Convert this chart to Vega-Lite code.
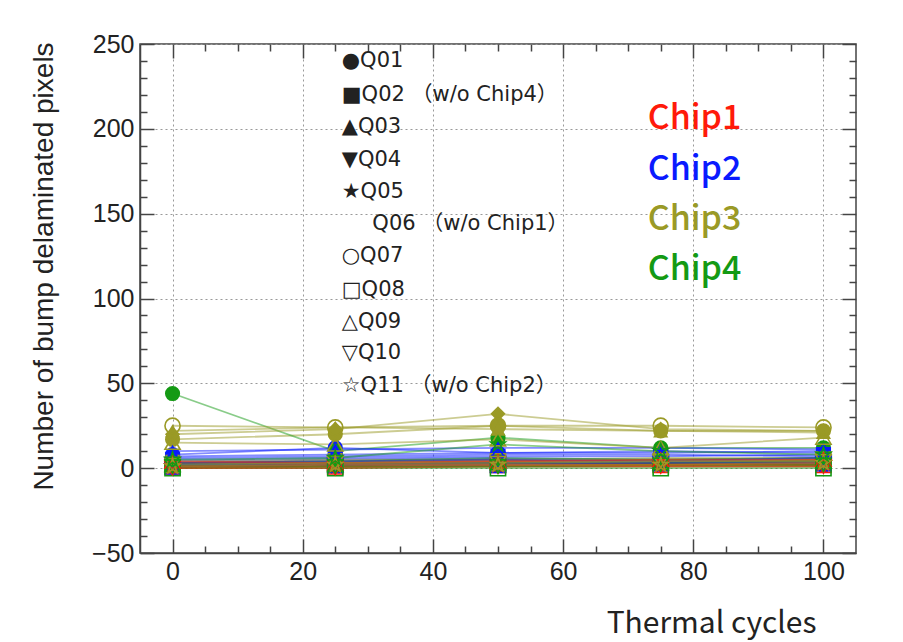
{
"$schema": "https://vega.github.io/schema/vega-lite/v6.json",
"width": 716, "height": 509,
"autosize": "none",
"padding": {"left": 140, "top": 44, "right": 47, "bottom": 89},
"background": "white",
"config": {"view": {"stroke": "#444", "strokeWidth": 1.5}},
"datasets": {
"pts": [
{"q":"Q01","c":"Chip1","x":0,"y":2},{"q":"Q01","c":"Chip1","x":25,"y":3},{"q":"Q01","c":"Chip1","x":50,"y":2},{"q":"Q01","c":"Chip1","x":75,"y":3},{"q":"Q01","c":"Chip1","x":100,"y":2},
{"q":"Q01","c":"Chip2","x":0,"y":8},{"q":"Q01","c":"Chip2","x":25,"y":12},{"q":"Q01","c":"Chip2","x":50,"y":9},{"q":"Q01","c":"Chip2","x":75,"y":10},{"q":"Q01","c":"Chip2","x":100,"y":9},
{"q":"Q01","c":"Chip3","x":0,"y":17},{"q":"Q01","c":"Chip3","x":25,"y":20},{"q":"Q01","c":"Chip3","x":50,"y":25},{"q":"Q01","c":"Chip3","x":75,"y":22},{"q":"Q01","c":"Chip3","x":100,"y":22},
{"q":"Q01","c":"Chip4","x":0,"y":44},{"q":"Q01","c":"Chip4","x":25,"y":10},{"q":"Q01","c":"Chip4","x":50,"y":18},{"q":"Q01","c":"Chip4","x":75,"y":12},{"q":"Q01","c":"Chip4","x":100,"y":12},
{"q":"Q02","c":"Chip1","x":0,"y":3},{"q":"Q02","c":"Chip1","x":25,"y":3},{"q":"Q02","c":"Chip1","x":50,"y":4},{"q":"Q02","c":"Chip1","x":75,"y":4},{"q":"Q02","c":"Chip1","x":100,"y":4},
{"q":"Q02","c":"Chip2","x":0,"y":5},{"q":"Q02","c":"Chip2","x":25,"y":6},{"q":"Q02","c":"Chip2","x":50,"y":7},{"q":"Q02","c":"Chip2","x":75,"y":7},{"q":"Q02","c":"Chip2","x":100,"y":8},
{"q":"Q02","c":"Chip3","x":0,"y":1},{"q":"Q02","c":"Chip3","x":25,"y":2},{"q":"Q02","c":"Chip3","x":50,"y":3},{"q":"Q02","c":"Chip3","x":75,"y":3},{"q":"Q02","c":"Chip3","x":100,"y":3},
{"q":"Q03","c":"Chip1","x":0,"y":1},{"q":"Q03","c":"Chip1","x":25,"y":2},{"q":"Q03","c":"Chip1","x":50,"y":3},{"q":"Q03","c":"Chip1","x":75,"y":2},{"q":"Q03","c":"Chip1","x":100,"y":3},
{"q":"Q03","c":"Chip2","x":0,"y":10},{"q":"Q03","c":"Chip2","x":25,"y":11},{"q":"Q03","c":"Chip2","x":50,"y":12},{"q":"Q03","c":"Chip2","x":75,"y":12},{"q":"Q03","c":"Chip2","x":100,"y":11},
{"q":"Q03","c":"Chip3","x":0,"y":22},{"q":"Q03","c":"Chip3","x":25,"y":24},{"q":"Q03","c":"Chip3","x":50,"y":23},{"q":"Q03","c":"Chip3","x":75,"y":22},{"q":"Q03","c":"Chip3","x":100,"y":21},
{"q":"Q03","c":"Chip4","x":0,"y":2},{"q":"Q03","c":"Chip4","x":25,"y":3},{"q":"Q03","c":"Chip4","x":50,"y":5},{"q":"Q03","c":"Chip4","x":75,"y":4},{"q":"Q03","c":"Chip4","x":100,"y":5},
{"q":"Q04","c":"Chip1","x":0,"y":3},{"q":"Q04","c":"Chip1","x":25,"y":4},{"q":"Q04","c":"Chip1","x":50,"y":5},{"q":"Q04","c":"Chip1","x":75,"y":4},{"q":"Q04","c":"Chip1","x":100,"y":4},
{"q":"Q04","c":"Chip2","x":0,"y":4},{"q":"Q04","c":"Chip2","x":25,"y":5},{"q":"Q04","c":"Chip2","x":50,"y":6},{"q":"Q04","c":"Chip2","x":75,"y":5},{"q":"Q04","c":"Chip2","x":100,"y":6},
{"q":"Q04","c":"Chip3","x":0,"y":4},{"q":"Q04","c":"Chip3","x":25,"y":5},{"q":"Q04","c":"Chip3","x":50,"y":5},{"q":"Q04","c":"Chip3","x":75,"y":6},{"q":"Q04","c":"Chip3","x":100,"y":6},
{"q":"Q04","c":"Chip4","x":0,"y":1},{"q":"Q04","c":"Chip4","x":25,"y":1},{"q":"Q04","c":"Chip4","x":50,"y":2},{"q":"Q04","c":"Chip4","x":75,"y":2},{"q":"Q04","c":"Chip4","x":100,"y":2},
{"q":"Q05","c":"Chip1","x":0,"y":0},{"q":"Q05","c":"Chip1","x":25,"y":1},{"q":"Q05","c":"Chip1","x":50,"y":1},{"q":"Q05","c":"Chip1","x":75,"y":1},{"q":"Q05","c":"Chip1","x":100,"y":1},
{"q":"Q05","c":"Chip2","x":0,"y":2},{"q":"Q05","c":"Chip2","x":25,"y":3},{"q":"Q05","c":"Chip2","x":50,"y":4},{"q":"Q05","c":"Chip2","x":75,"y":4},{"q":"Q05","c":"Chip2","x":100,"y":4},
{"q":"Q05","c":"Chip3","x":0,"y":3},{"q":"Q05","c":"Chip3","x":25,"y":4},{"q":"Q05","c":"Chip3","x":50,"y":4},{"q":"Q05","c":"Chip3","x":75,"y":5},{"q":"Q05","c":"Chip3","x":100,"y":5},
{"q":"Q05","c":"Chip4","x":0,"y":0},{"q":"Q05","c":"Chip4","x":25,"y":0},{"q":"Q05","c":"Chip4","x":50,"y":1},{"q":"Q05","c":"Chip4","x":75,"y":1},{"q":"Q05","c":"Chip4","x":100,"y":1},
{"q":"Q06","c":"Chip2","x":0,"y":6},{"q":"Q06","c":"Chip2","x":25,"y":7},{"q":"Q06","c":"Chip2","x":50,"y":8},{"q":"Q06","c":"Chip2","x":75,"y":8},{"q":"Q06","c":"Chip2","x":100,"y":7},
{"q":"Q06","c":"Chip3","x":0,"y":20},{"q":"Q06","c":"Chip3","x":25,"y":23},{"q":"Q06","c":"Chip3","x":50,"y":32},{"q":"Q06","c":"Chip3","x":75,"y":23},{"q":"Q06","c":"Chip3","x":100,"y":22},
{"q":"Q06","c":"Chip4","x":0,"y":3},{"q":"Q06","c":"Chip4","x":25,"y":4},{"q":"Q06","c":"Chip4","x":50,"y":6},{"q":"Q06","c":"Chip4","x":75,"y":5},{"q":"Q06","c":"Chip4","x":100,"y":6},
{"q":"Q07","c":"Chip1","x":0,"y":2},{"q":"Q07","c":"Chip1","x":25,"y":2},{"q":"Q07","c":"Chip1","x":50,"y":3},{"q":"Q07","c":"Chip1","x":75,"y":3},{"q":"Q07","c":"Chip1","x":100,"y":3},
{"q":"Q07","c":"Chip2","x":0,"y":3},{"q":"Q07","c":"Chip2","x":25,"y":4},{"q":"Q07","c":"Chip2","x":50,"y":5},{"q":"Q07","c":"Chip2","x":75,"y":4},{"q":"Q07","c":"Chip2","x":100,"y":6},
{"q":"Q07","c":"Chip3","x":0,"y":25},{"q":"Q07","c":"Chip3","x":25,"y":24},{"q":"Q07","c":"Chip3","x":50,"y":25},{"q":"Q07","c":"Chip3","x":75,"y":25},{"q":"Q07","c":"Chip3","x":100,"y":24},
{"q":"Q07","c":"Chip4","x":0,"y":1},{"q":"Q07","c":"Chip4","x":25,"y":2},{"q":"Q07","c":"Chip4","x":50,"y":3},{"q":"Q07","c":"Chip4","x":75,"y":3},{"q":"Q07","c":"Chip4","x":100,"y":3},
{"q":"Q08","c":"Chip1","x":0,"y":1},{"q":"Q08","c":"Chip1","x":25,"y":1},{"q":"Q08","c":"Chip1","x":50,"y":2},{"q":"Q08","c":"Chip1","x":75,"y":2},{"q":"Q08","c":"Chip1","x":100,"y":2},
{"q":"Q08","c":"Chip2","x":0,"y":1},{"q":"Q08","c":"Chip2","x":25,"y":2},{"q":"Q08","c":"Chip2","x":50,"y":2},{"q":"Q08","c":"Chip2","x":75,"y":3},{"q":"Q08","c":"Chip2","x":100,"y":3},
{"q":"Q08","c":"Chip3","x":0,"y":2},{"q":"Q08","c":"Chip3","x":25,"y":3},{"q":"Q08","c":"Chip3","x":50,"y":4},{"q":"Q08","c":"Chip3","x":75,"y":4},{"q":"Q08","c":"Chip3","x":100,"y":5},
{"q":"Q08","c":"Chip4","x":0,"y":0},{"q":"Q08","c":"Chip4","x":25,"y":0},{"q":"Q08","c":"Chip4","x":50,"y":0},{"q":"Q08","c":"Chip4","x":75,"y":0},{"q":"Q08","c":"Chip4","x":100,"y":0},
{"q":"Q09","c":"Chip1","x":0,"y":4},{"q":"Q09","c":"Chip1","x":25,"y":3},{"q":"Q09","c":"Chip1","x":50,"y":4},{"q":"Q09","c":"Chip1","x":75,"y":5},{"q":"Q09","c":"Chip1","x":100,"y":5},
{"q":"Q09","c":"Chip2","x":0,"y":7},{"q":"Q09","c":"Chip2","x":25,"y":8},{"q":"Q09","c":"Chip2","x":50,"y":9},{"q":"Q09","c":"Chip2","x":75,"y":9},{"q":"Q09","c":"Chip2","x":100,"y":10},
{"q":"Q09","c":"Chip3","x":0,"y":15},{"q":"Q09","c":"Chip3","x":25,"y":14},{"q":"Q09","c":"Chip3","x":50,"y":17},{"q":"Q09","c":"Chip3","x":75,"y":12},{"q":"Q09","c":"Chip3","x":100,"y":18},
{"q":"Q09","c":"Chip4","x":0,"y":2},{"q":"Q09","c":"Chip4","x":25,"y":2},{"q":"Q09","c":"Chip4","x":50,"y":3},{"q":"Q09","c":"Chip4","x":75,"y":3},{"q":"Q09","c":"Chip4","x":100,"y":4},
{"q":"Q10","c":"Chip1","x":0,"y":0},{"q":"Q10","c":"Chip1","x":25,"y":0},{"q":"Q10","c":"Chip1","x":50,"y":1},{"q":"Q10","c":"Chip1","x":75,"y":1},{"q":"Q10","c":"Chip1","x":100,"y":1},
{"q":"Q10","c":"Chip2","x":0,"y":2},{"q":"Q10","c":"Chip2","x":25,"y":2},{"q":"Q10","c":"Chip2","x":50,"y":3},{"q":"Q10","c":"Chip2","x":75,"y":3},{"q":"Q10","c":"Chip2","x":100,"y":3},
{"q":"Q10","c":"Chip3","x":0,"y":2},{"q":"Q10","c":"Chip3","x":25,"y":3},{"q":"Q10","c":"Chip3","x":50,"y":3},{"q":"Q10","c":"Chip3","x":75,"y":4},{"q":"Q10","c":"Chip3","x":100,"y":4},
{"q":"Q10","c":"Chip4","x":0,"y":1},{"q":"Q10","c":"Chip4","x":25,"y":1},{"q":"Q10","c":"Chip4","x":50,"y":1},{"q":"Q10","c":"Chip4","x":75,"y":2},{"q":"Q10","c":"Chip4","x":100,"y":2},
{"q":"Q11","c":"Chip1","x":0,"y":1},{"q":"Q11","c":"Chip1","x":25,"y":2},{"q":"Q11","c":"Chip1","x":50,"y":2},{"q":"Q11","c":"Chip1","x":75,"y":2},{"q":"Q11","c":"Chip1","x":100,"y":3},
{"q":"Q11","c":"Chip3","x":0,"y":1},{"q":"Q11","c":"Chip3","x":25,"y":2},{"q":"Q11","c":"Chip3","x":50,"y":2},{"q":"Q11","c":"Chip3","x":75,"y":2},{"q":"Q11","c":"Chip3","x":100,"y":3},
{"q":"Q11","c":"Chip4","x":0,"y":5},{"q":"Q11","c":"Chip4","x":25,"y":6},{"q":"Q11","c":"Chip4","x":50,"y":14},{"q":"Q11","c":"Chip4","x":75,"y":10},{"q":"Q11","c":"Chip4","x":100,"y":8}
],
"leg": [
{"label":"●Q01","x":26,"y":239.8},
{"label":"■Q02 （w/o Chip4）","x":26,"y":219.7},
{"label":"▲Q03","x":26,"y":200.8},
{"label":"▼Q04","x":26,"y":181.9},
{"label":"★Q05","x":26,"y":163},
{"label":"Q06 （w/o Chip1）","x":30.7,"y":144.1},
{"label":"○Q07","x":26,"y":125.2},
{"label":"□Q08","x":26,"y":105.1},
{"label":"△Q09","x":26,"y":86.2},
{"label":"▽Q10","x":26,"y":67.9},
{"label":"☆Q11 （w/o Chip2）","x":26,"y":48.4}
],
"chips": [
{"c":"Chip1","x":73,"y":205.6},
{"c":"Chip2","x":73,"y":176},
{"c":"Chip3","x":73,"y":146.5},
{"c":"Chip4","x":73,"y":117}
]
},
"resolve": {"axis": {"x": "independent", "y": "independent"}},
"layer": [
{
"data": {"name": "pts"},
"mark": {"type": "line", "strokeWidth": 1.8, "opacity": 0.5},
"encoding": {
"x": {"field": "x", "type": "quantitative", "scale": {"domain": [-5, 105], "nice": false, "zero": false},
 "axis": {"orient": "bottom", "values": [0,20,40,60,80,100],
  "tickSize": -14, "tickColor": "#444", "tickWidth": 1.5, "domainColor": "#444", "domainWidth": 1.5,
  "grid": true, "gridDash": [2, 3], "gridColor": "#999",
  "labelFont": "Liberation Sans", "labelFontSize": 25, "labelColor": "#222", "labelPadding": 20,
  "title": "Thermal cycles", "titleFont": "Noto Sans CJK JP", "titleFontSize": 30, "titleFontWeight": "normal", "titleColor": "#222",
  "titleAnchor": "end", "titleAlign": "right", "titleX": 676, "titleY": 79, "titleBaseline": "alphabetic"}},
"y": {"field": "y", "type": "quantitative", "scale": {"domain": [-50, 250], "nice": false, "zero": false},
 "axis": {"orient": "left", "values": [-50,0,50,100,150,200,250],
  "tickSize": -14, "tickColor": "#444", "tickWidth": 1.5, "domainColor": "#444", "domainWidth": 1.5,
  "grid": true, "gridDash": [2, 3], "gridColor": "#999",
  "labelFont": "Liberation Sans", "labelFontSize": 25, "labelColor": "#222", "labelPadding": 20,
  "title": "Number of bump delaminated pixels", "titleFont": "Liberation Sans", "titleFontSize": 28, "titleFontWeight": "normal", "titleColor": "#222",
  "titleAngle": -90, "titleX": -96, "titleY": 222, "titleAlign": "center", "titleBaseline": "middle"}},
"color": {"field": "c", "type": "nominal", "scale": {"domain": ["Chip1","Chip2","Chip3","Chip4"], "range": ["#ff1a0a","#0a1aff","#9a9a26","#149a14"]}, "legend": null},
"detail": {"field": "q"}
}
},
{
"data": {"name": "pts"},
"transform": [{"filter": "datum.q <= 'Q06'"}],
"mark": {"type": "point", "filled": true, "opacity": 1, "size": 230},
"encoding": {
"x": {"field": "x", "type": "quantitative",
 "axis": {"orient": "bottom", "values": [5,10,15,25,30,35,45,50,55,65,70,75,85,90,95], "labels": false, "grid": false, "domain": false, "title": null, "tickSize": -7, "tickColor": "#444", "tickWidth": 1.5}},
"y": {"field": "y", "type": "quantitative",
 "axis": {"orient": "left", "values": [-40,-30,-20,-10,10,20,30,40,60,70,80,90,110,120,130,140,160,170,180,190,210,220,230,240], "labels": false, "grid": false, "domain": false, "title": null, "tickSize": -7, "tickColor": "#444", "tickWidth": 1.5}},
"color": {"field": "c", "type": "nominal", "legend": null},
"shape": {"field": "q", "type": "nominal", "legend": null, "scale": {"domain": ["Q01","Q02","Q03","Q04","Q05","Q06","Q07","Q08","Q09","Q10","Q11"], "range": ["circle","square","triangle-up","triangle-down","M0,-1L0.2245,-0.309L0.9511,-0.309L0.3633,0.118L0.5878,0.809L0,0.382L-0.5878,0.809L-0.3633,0.118L-0.9511,-0.309L-0.2245,-0.309Z","diamond","circle","square","triangle-up","triangle-down","M0,-1L0.2245,-0.309L0.9511,-0.309L0.3633,0.118L0.5878,0.809L0,0.382L-0.5878,0.809L-0.3633,0.118L-0.9511,-0.309L-0.2245,-0.309Z"]}}
}
},
{
"data": {"name": "pts"},
"transform": [{"filter": "datum.q >= 'Q07'"}],
"mark": {"type": "point", "filled": false, "opacity": 1, "size": 230, "strokeWidth": 1.6},
"encoding": {
"x": {"field": "x", "type": "quantitative",
 "axis": {"orient": "top", "values": [0,20,40,60,80,100], "labels": false, "grid": false, "domain": false, "title": null, "tickSize": -14, "tickColor": "#444", "tickWidth": 1.5}},
"y": {"field": "y", "type": "quantitative",
 "axis": {"orient": "right", "values": [-50,0,50,100,150,200,250], "labels": false, "grid": false, "domain": false, "title": null, "tickSize": -14, "tickColor": "#444", "tickWidth": 1.5}},
"color": {"field": "c", "type": "nominal", "legend": null},
"shape": {"field": "q", "type": "nominal", "legend": null}
}
},
{
"data": {"name": "leg"},
"mark": {"type": "text", "align": "left", "baseline": "middle", "font": "DejaVu Sans, Noto Sans CJK JP", "fontSize": 21, "color": "#222"},
"encoding": {
"x": {"field": "x", "type": "quantitative",
 "axis": {"orient": "top", "values": [5,10,15,25,30,35,45,50,55,65,70,75,85,90,95], "labels": false, "grid": false, "domain": false, "title": null, "tickSize": -7, "tickColor": "#444", "tickWidth": 1.5}},
"y": {"field": "y", "type": "quantitative",
 "axis": {"orient": "right", "values": [-40,-30,-20,-10,10,20,30,40,60,70,80,90,110,120,130,140,160,170,180,190,210,220,230,240], "labels": false, "grid": false, "domain": false, "title": null, "tickSize": -7, "tickColor": "#444", "tickWidth": 1.5}},
"text": {"field": "label"}
}
},
{
"data": {"name": "chips"},
"mark": {"type": "text", "align": "left", "baseline": "middle", "font": "Noto Sans CJK JP", "fontSize": 34, "fontWeight": 500},
"encoding": {
"x": {"field": "x", "type": "quantitative", "axis": null},
"y": {"field": "y", "type": "quantitative", "axis": null},
"text": {"field": "c"},
"color": {"field": "c", "type": "nominal", "legend": null}
}
}
]
}
